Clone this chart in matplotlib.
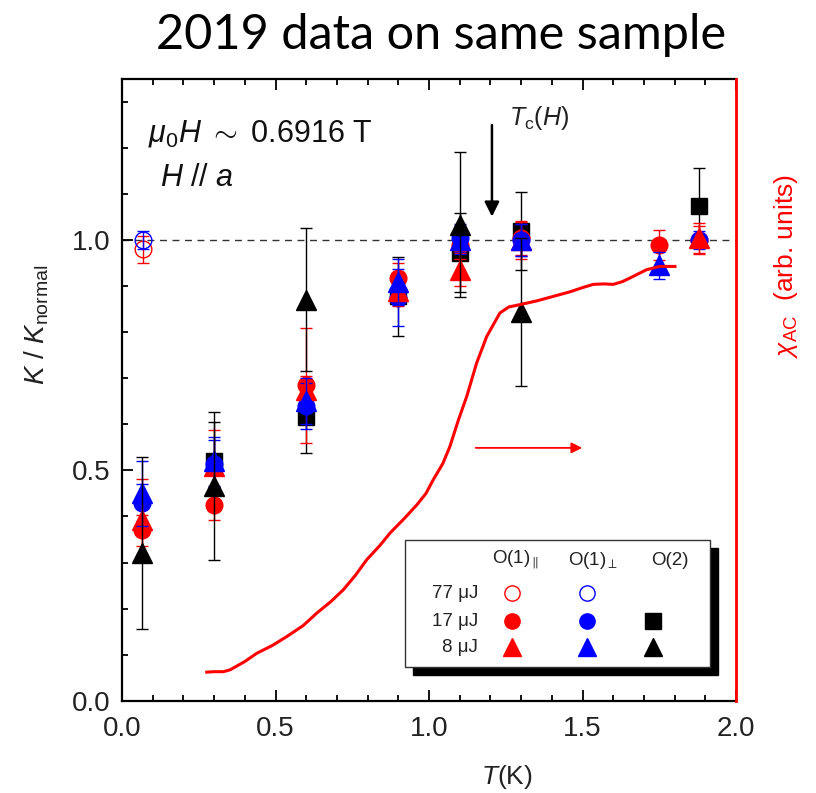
import matplotlib
matplotlib.use("Agg")
import matplotlib.pyplot as plt
from matplotlib.patches import Rectangle

plt.rcParams['mathtext.fontset'] = 'custom'
plt.rcParams['mathtext.rm'] = 'Liberation Sans'
plt.rcParams['mathtext.it'] = 'Liberation Sans:italic'
plt.rcParams['mathtext.bf'] = 'Liberation Sans:bold'
plt.rcParams['font.family'] = ['Liberation Sans', 'DejaVu Sans']

# ---------------- data ----------------
# 77 uJ, open circles
T_par77 = [0.068]
K_par77 = [0.98]
E_par77 = [0.03]
T_perp77 = [0.068]
K_perp77 = [1.00]
E_perp77 = [0.02]

# 17 uJ, O(1)par red circles
T_par17 = [0.065, 0.30, 0.60, 0.90, 1.10, 1.30, 1.75, 1.88]
K_par17 = [0.37, 0.425, 0.685, 0.918, 0.99, 1.005, 0.99, 1.00]
E_par17 = [0.034, 0.032, 0.125, 0.033, 0.03, 0.037, 0.033, 0.03]
# 8 uJ, O(1)par red triangles
T_par8 = [0.065, 0.30, 0.60, 0.90, 1.10, 1.30, 1.88]
K_par8 = [0.393, 0.51, 0.675, 0.89, 0.936, 1.00, 1.005]
E_par8 = [0.088, 0.078, 0.03, 0.033, 0.036, 0.04, 0.033]
# 17 uJ, O(1)perp blue circles
T_perp17 = [0.065, 0.30, 0.60, 0.90, 1.10, 1.30, 1.88]
K_perp17 = [0.43, 0.515, 0.64, 0.875, 1.005, 1.00, 1.00]
E_perp17 = [0.04, 0.05, 0.05, 0.062, 0.03, 0.035, 0.02]
# 8 uJ, O(1)perp blue triangles
T_perp8 = [0.065, 0.30, 0.60, 0.90, 1.10, 1.30, 1.75]
K_perp8 = [0.45, 0.52, 0.65, 0.91, 1.00, 1.00, 0.945]
E_perp8 = [0.07, 0.053, 0.05, 0.05, 0.03, 0.035, 0.03]
# 17 uJ, O(2) black squares
T_o2_17 = [0.30, 0.60, 0.90, 1.10, 1.30, 1.88]
K_o2_17 = [0.52, 0.617, 0.878, 0.973, 1.02, 1.074]
E_o2_17 = [0.085, 0.08, 0.086, 0.085, 0.085, 0.083]
# 8 uJ, O(2) black triangles
T_o2_8 = [0.065, 0.30, 0.60, 1.10, 1.30]
K_o2_8 = [0.32, 0.466, 0.871, 1.034, 0.844]
Elo_o2_8 = [0.165, 0.16, 0.155, 0.157, 0.16]
Ehi_o2_8 = [0.21, 0.16, 0.155, 0.157, 0.16]

# chi_AC curve (arb. units)
chi_T = [0.276, 0.30, 0.33, 0.352, 0.40, 0.439, 0.49, 0.536, 0.59, 0.634, 0.68, 0.721,
         0.76, 0.797, 0.84, 0.873, 0.92, 0.960, 0.99, 1.014, 1.045, 1.068, 1.096,
         1.123, 1.155, 1.188, 1.231, 1.26, 1.296, 1.35, 1.405, 1.46, 1.50, 1.535,
         1.570, 1.600, 1.630, 1.655, 1.709, 1.752, 1.801]
chi_val = [0.062, 0.063, 0.063, 0.067, 0.085, 0.103, 0.120, 0.139, 0.163, 0.190, 0.215, 0.241,
           0.272, 0.306, 0.337, 0.364, 0.396, 0.425, 0.450, 0.480, 0.515, 0.552, 0.610,
           0.661, 0.733, 0.791, 0.842, 0.855, 0.860, 0.868, 0.878, 0.888, 0.897, 0.904,
           0.905, 0.904, 0.910, 0.918, 0.936, 0.943, 0.943]

# ---------------- figure ----------------
fig = plt.figure(figsize=(8.16, 7.93), dpi=100)
ax = fig.add_axes([0.1495, 0.1164, 0.7525, 0.784])
ax2 = ax.twinx()

ax.set_xlim(0, 2.0)
ax.set_ylim(0, 1.35)
ax2.set_ylim(0, 1.35)
ax2.set_yticks([])

ms_c = 12
ms_t = 14
ekw = dict(capsize=4.5, elinewidth=1.0, capthick=1.0, linestyle='none')

ax.axhline(1.0, color='#333333', lw=1.0, ls=(0, (5, 4)), zorder=1)

ax.errorbar(T_o2_17, K_o2_17, yerr=E_o2_17, marker='s', ms=ms_c, color='black', zorder=3, **ekw)
ax.errorbar(T_par17, K_par17, yerr=E_par17, marker='o', ms=ms_c, color='red', zorder=4, **ekw)
ax.errorbar(T_perp17, K_perp17, yerr=E_perp17, marker='o', ms=ms_c, color='blue', zorder=5, **ekw)
ax.errorbar(T_par8, K_par8, yerr=E_par8, marker='^', ms=ms_t, color='red', zorder=6, **ekw)
ax.errorbar(T_perp8, K_perp8, yerr=E_perp8, marker='^', ms=ms_t, color='blue', zorder=7, **ekw)
ax.errorbar(T_o2_8, K_o2_8, yerr=[Elo_o2_8, Ehi_o2_8], marker='^', ms=ms_t, color='black', zorder=8, **ekw)
ax.errorbar(T_par77, K_par77, yerr=E_par77, marker='o', ms=ms_c, mfc='none', mec='red', color='red', zorder=6, **ekw)
ax.errorbar(T_perp77, K_perp77, yerr=E_perp77, marker='o', ms=ms_c, mfc='none', mec='blue', color='blue', zorder=7, **ekw)

ax2.plot(chi_T, chi_val, color='red', lw=2.2)

# spines and ticks
for s in ['left', 'bottom', 'top']:
    ax.spines[s].set_linewidth(1.6)
ax.spines['right'].set_visible(False)
ax2.spines['left'].set_visible(False)
ax2.spines['top'].set_visible(False)
ax2.spines['bottom'].set_visible(False)
ax2.spines['right'].set_color('red')
ax2.spines['right'].set_linewidth(2.0)

ax.set_xticks([0, 0.5, 1.0, 1.5, 2.0])
ax.set_xticks([i / 10 for i in range(21)], minor=True)
ax.set_yticks([0, 0.5, 1.0])
ax.set_yticks([i / 10 for i in range(14)], minor=True)
ax.tick_params(which='both', direction='in', top=True, right=False, width=1.3)
ax.tick_params(which='major', length=8, labelsize=20)
ax.tick_params(axis='x', which='major', pad=11)
ax.tick_params(axis='y', which='major', pad=8)
ax.tick_params(which='minor', length=4)
tick_fam = ['Liberation Sans Narrow', 'Liberation Sans', 'DejaVu Sans']
ax.set_xticklabels(['0.0', '0.5', '1.0', '1.5', '2.0'], family=tick_fam, color='#222222')
ax.set_yticklabels(['0.0', '0.5', '1.0'], family=tick_fam, color='#222222')

# labels
fig.text(0.621, 0.020, r'$T$(K)', fontsize=19, ha='center', va='center', color='#222222')
fig.text(0.045, 0.59, r'$K$ / $K_{\rm normal}$', fontsize=20, rotation=90,
         ha='center', va='center', color='#222222')
fig.text(0.963, 0.665, r'$\chi_{\rm AC}$  (arb. units)', fontsize=19, rotation=90,
         ha='center', va='center', color='red')

fig.text(0.541, 0.956, '2019 data on same sample', fontsize=35, family=['Lato', 'DejaVu Sans'],
         ha='center', va='center', color='black')

# annotations
ax.text(0.042, 0.913, r'$\mu_0H$ $\sim$ 0.6916 T', transform=ax.transAxes, fontsize=22,
        ha='left', va='center', color='#111111')
ax.text(0.062, 0.841, r'$H$ // $a$', transform=ax.transAxes, fontsize=22,
        ha='left', va='center', color='#111111')
ax.text(0.63, 0.937, r'$T_{\rm c}(H)$', transform=ax.transAxes, fontsize=18,
        ha='left', va='center', color='#222222')
ax.annotate('', xy=(1.205, 1.045), xytext=(1.205, 1.256),
            arrowprops=dict(arrowstyle='-|>', color='black', lw=1.8, mutation_scale=22))
ax2.annotate('', xy=(1.508, 0.549), xytext=(1.143, 0.549),
             arrowprops=dict(arrowstyle='-|>', color='red', lw=1.3, mutation_scale=16))

# custom legend table
lx0, lx1, ly0, ly1 = 0.461, 0.958, 0.0542, 0.2585
dx, dy = 0.013, 0.013
ax.add_patch(Rectangle((lx0 + dx, ly0 - dy), lx1 - lx0, ly1 - ly0, transform=ax.transAxes,
                       facecolor='black', edgecolor='black', zorder=20))
ax.add_patch(Rectangle((lx0, ly0), lx1 - lx0, ly1 - ly0, transform=ax.transAxes,
                       facecolor='white', edgecolor='#333333', lw=1.0, zorder=21))
col_x = [0.635, 0.757, 0.865]
hdr_x = [0.641, 0.768, 0.892]
row_y = [0.173, 0.128, 0.086]
headers = [r'O(1)$_{\parallel}$', r'O(1)$_{\perp}$', 'O(2)']
rows = ['77 μJ', '17 μJ', '8 μJ']
for hx, h in zip(hdr_x, headers):
    ax.text(hx, 0.226, h, transform=ax.transAxes, fontsize=13.5, ha='center', va='center',
            color='#222222', zorder=22)
for ry, r in zip(row_y, rows):
    ax.text(0.580, ry, r, transform=ax.transAxes, fontsize=13.5, ha='right', va='center',
            color='#222222', zorder=22)
leg_marks = [
    (0, 0, 'o', 'none', 'red', ms_c - 1),
    (1, 0, 'o', 'none', 'blue', ms_c - 1),
    (0, 1, 'o', 'red', 'red', ms_c - 1),
    (1, 1, 'o', 'blue', 'blue', ms_c - 1),
    (2, 1, 's', 'black', 'black', ms_c - 1),
    (0, 2, '^', 'red', 'red', ms_t - 1),
    (1, 2, '^', 'blue', 'blue', ms_t - 1),
    (2, 2, '^', 'black', 'black', ms_t - 1),
]
for ci, ri, m, fc, ec, ms in leg_marks:
    ax.plot([col_x[ci]], [row_y[ri]], marker=m, mfc=fc, mec=ec, ms=ms, transform=ax.transAxes,
            zorder=22, ls='none')

fig.savefig('out.png', dpi=100)
